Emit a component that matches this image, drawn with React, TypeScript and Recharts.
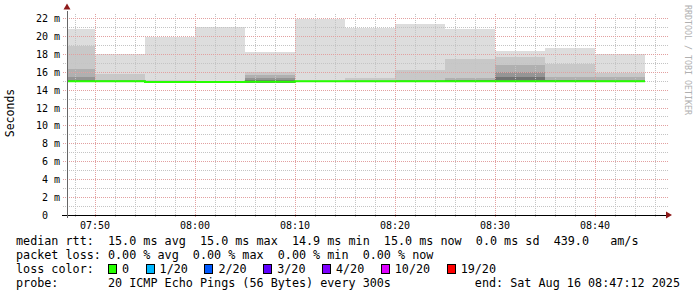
import React from 'react';
import { ComposedChart, Area, Line, XAxis, YAxis, ReferenceLine, ReferenceDot } from 'recharts';

// time in minutes after 07:00 ; each step covers 5 minutes (300 s)
const stepStart = [45, 50, 55, 60, 65, 70, 75, 80, 85, 90, 95, 100];
const stepEnd = 105;
// round trip times in ms
const pingMin = [14.9, 14.9, 14.82, 14.82, 14.85, 14.9, 14.9, 14.9, 14.9, 14.9, 14.9, 14.9];
const pingMax = [20.9, 18.07, 19.94, 21.13, 18.3, 21.96, 21.0, 21.44, 20.9, 18.44, 18.74, 18.07];
const band4Top = [18.95, 15.8, 15.1, 15.05, 16.1, 15.15, 15.38, 16.27, 17.5, 17.77, 16.92, 15.97];
const band3Top = [16.35, 15.2, 15.0, 14.95, 15.7, 15.05, 15.1, 15.2, 15.4, 16.84, 15.45, 15.45];
const band2Top = [15.5, 15.1, 14.95, 14.9, 15.35, 15.0, 15.05, 15.1, 15.2, 16.1, 15.2, 15.15];
const band1Top = [15.2, 15.05, 14.9, 14.9, 15.1, 15.0, 15.0, 15.05, 15.1, 15.5, 15.1, 15.05];
const medianRtt = [15.0, 15.0, 14.92, 14.92, 14.96, 15.0, 15.0, 15.0, 15.0, 15.0, 15.0, 15.0];

const xStart = 47.2; // 07:47:12
const xEnd = 107.2; // 08:47:12
const yTop = 22.67;
const xTicks = [50, 60, 70, 80, 90, 100];
const xMinorGrid = [48, 52, 54, 56, 58, 62, 64, 66, 68, 72, 74, 76, 78, 82, 84, 86, 88, 92, 94, 96, 98, 102, 104, 106];
const yTicks = [0, 2, 4, 6, 8, 10, 12, 14, 16, 18, 20, 22];
const yMinorGrid = [1, 3, 5, 7, 9, 11, 13, 15, 17, 19, 21];

const rttLine = 'median rtt:  15.0 ms avg  15.0 ms max  14.9 ms min  15.0 ms now  0.0 ms sd  439.0   am/s';
const lossLine = 'packet loss: 0.00 % avg  0.00 % max  0.00 % min  0.00 % now';
const lossLabels = ['0', '1/20', '2/20', '3/20', '4/20', '10/20', '19/20'];
const lossColors = ['#26ff00', '#00b8ff', '#0059ff', '#5e00ff', '#7e00ff', '#dd00ff', '#ff0000'];
const probeText = '20 ICMP Echo Pings (56 Bytes) every 300s';
const endText = 'end: Sat Aug 16 08:47:12 2025';

const rows = stepStart.map((t, i) => ({
  t,
  min: pingMin[i],
  max: pingMax[i],
  b4: band4Top[i],
  b3: band3Top[i],
  b2: band2Top[i],
  b1: band1Top[i],
  median: medianRtt[i],
}));
const data = [...rows, { ...rows[rows.length - 1], t: stepEnd }];

const MONO = '"DejaVu Sans Mono", monospace';
const minorColor = '#c4c4c4';
const majorColor = '#e2a0a0';
const arrowColor = '#8e1a1a';

const fmtTime = (m: number) => {
  const h = 7 + Math.floor(m / 60);
  const mm = m % 60;
  return `${String(h).padStart(2, '0')}:${String(mm).padStart(2, '0')}`;
};

const XTick = (p: any) => (
  <text x={p.x} y={p.y} dy={13.5} textAnchor="middle" fontFamily={MONO} fontSize={10} fill="#000">
    {fmtTime(p.payload.value)}
  </text>
);

const YTick = (p: any) => (
  <text
    x={p.x - 7}
    y={p.y}
    dy={3.5}
    textAnchor="end"
    fontFamily={MONO}
    fontSize={10}
    fill="#000"
    xmlSpace="preserve"
    style={{ whiteSpace: 'pre' }}
  >
    {p.payload.value === 0 ? '0  ' : `${p.payload.value} m`}
  </text>
);

const RightArrow = (p: any) => (
  <path d={`M${p.cx - 3},${p.cy - 3.5} L${p.cx + 3},${p.cy} L${p.cx - 3},${p.cy + 3.5} Z`} fill={arrowColor} />
);
const UpArrow = (p: any) => (
  <path d={`M${p.cx - 3.5},${p.cy + 3} L${p.cx},${p.cy - 3} L${p.cx + 3.5},${p.cy + 3} Z`} fill={arrowColor} />
);

const gridLeft = 46.8;
const gridRight = 107.4;
const gridBottom = -0.22;

export default function App() {
  return (
    <div style={{ position: 'absolute', left: 0, top: 0, width: 697, height: 297, background: '#fff', overflow: 'hidden' }}>
      <ComposedChart width={697} height={297} data={data} margin={{ top: 13, right: 30, bottom: 62, left: 7 }}>
        <XAxis
          dataKey="t"
          type="number"
          domain={[xStart, xEnd]}
          allowDataOverflow
          ticks={xTicks}
          interval={0}
          tick={<XTick />}
          tickSize={0}
          tickMargin={0}
          axisLine={false}
          tickLine={false}
          height={20}
        />
        <YAxis
          type="number"
          domain={[0, yTop]}
          allowDataOverflow
          ticks={yTicks}
          interval={0}
          tick={<YTick />}
          tickSize={0}
          tickMargin={0}
          axisLine={false}
          tickLine={false}
          width={60}
        />
        <Area dataKey={(d: any) => [d.min, d.max]} type="stepAfter" stroke="none" fill="#dddddd" fillOpacity={1} isAnimationActive={false} shapeRendering="crispEdges" />
        <Area dataKey={(d: any) => [d.min, d.b4]} type="stepAfter" stroke="none" fill="#c8c8c8" fillOpacity={1} isAnimationActive={false} shapeRendering="crispEdges" />
        <Area dataKey={(d: any) => [d.min, d.b3]} type="stepAfter" stroke="none" fill="#b0b0b0" fillOpacity={1} isAnimationActive={false} shapeRendering="crispEdges" />
        <Area dataKey={(d: any) => [d.min, d.b2]} type="stepAfter" stroke="none" fill="#959595" fillOpacity={1} isAnimationActive={false} shapeRendering="crispEdges" />
        <Area dataKey={(d: any) => [d.min, d.b1]} type="stepAfter" stroke="none" fill="#727272" fillOpacity={1} isAnimationActive={false} shapeRendering="crispEdges" />
        {yMinorGrid.map((v) => (
          <ReferenceLine key={`ym${v}`} segment={[{ x: gridLeft, y: v }, { x: gridRight, y: v }]} ifOverflow="visible" stroke={minorColor} strokeDasharray="1 1" shapeRendering="crispEdges" />
        ))}
        {xMinorGrid.map((v) => (
          <ReferenceLine key={`xm${v}`} segment={[{ x: v, y: gridBottom }, { x: v, y: yTop }]} ifOverflow="visible" stroke={minorColor} strokeDasharray="1 1" shapeRendering="crispEdges" />
        ))}
        {yTicks.filter((v) => v > 0).map((v) => (
          <ReferenceLine key={`yM${v}`} segment={[{ x: gridLeft, y: v }, { x: gridRight, y: v }]} ifOverflow="visible" stroke={majorColor} strokeDasharray="1 1" shapeRendering="crispEdges" />
        ))}
        {xTicks.map((v) => (
          <ReferenceLine key={`xM${v}`} segment={[{ x: v, y: gridBottom }, { x: v, y: yTop }]} ifOverflow="visible" stroke={majorColor} strokeDasharray="1 1" shapeRendering="crispEdges" />
        ))}
        <Line dataKey="median" type="stepAfter" stroke="#26ff00" strokeWidth={2} dot={false} activeDot={false} isAnimationActive={false} />
        <ReferenceLine segment={[{ x: 46.7, y: 0 }, { x: 107.3, y: 0 }]} ifOverflow="visible" stroke="#000" shapeRendering="crispEdges" />
        <ReferenceLine segment={[{ x: xStart, y: -0.34 }, { x: xStart, y: 22.9 }]} ifOverflow="visible" stroke="#666" shapeRendering="crispEdges" />
        <ReferenceDot x={107.4} y={0} ifOverflow="visible" shape={<RightArrow />} />
        <ReferenceDot x={xStart} y={23.4} ifOverflow="visible" shape={<UpArrow />} />
      </ComposedChart>

      <div
        style={{
          position: 'absolute', left: 10, top: 113, transform: 'translate(-50%, -50%) rotate(-90deg)',
          fontFamily: MONO, fontSize: 11.5, whiteSpace: 'pre', lineHeight: '14px', color: '#000',
        }}
      >
        Seconds
      </div>
      <div
        style={{
          position: 'absolute', left: 688, top: 60, transform: 'translate(-50%, -50%) rotate(90deg)',
          fontFamily: MONO, fontSize: 8.3, whiteSpace: 'pre', lineHeight: '10px', color: '#b0b0b0',
        }}
      >
        RRDTOOL / TOBI OETIKER
      </div>

      <div style={{ position: 'absolute', left: 16, top: 234, fontFamily: MONO, fontSize: 11.75, lineHeight: '14px', whiteSpace: 'pre', color: '#000' }}>
        {rttLine}
      </div>
      <div style={{ position: 'absolute', left: 16, top: 248, fontFamily: MONO, fontSize: 11.75, lineHeight: '14px', whiteSpace: 'pre', color: '#000' }}>
        {lossLine}
      </div>
      <div style={{ position: 'absolute', left: 16, top: 262, fontFamily: MONO, fontSize: 11.75, lineHeight: '14px', whiteSpace: 'pre', color: '#000', display: 'flex', alignItems: 'center' }}>
        <span style={{ width: 92 }}>loss color:</span>
        {lossLabels.map((l, i) => (
          <span key={l} style={{ display: 'inline-flex', alignItems: 'center', marginRight: 16.5 }}>
            <span style={{ display: 'inline-block', width: 7, height: 8, background: lossColors[i], border: '1px solid #000', marginRight: 5 }} />
            <span>{l}</span>
          </span>
        ))}
      </div>
      <div style={{ position: 'absolute', left: 16, top: 276, fontFamily: MONO, fontSize: 11.75, lineHeight: '14px', whiteSpace: 'pre', color: '#000' }}>
        {'probe:       ' + probeText}
      </div>
      <div style={{ position: 'absolute', right: 17, top: 276, fontFamily: MONO, fontSize: 11.75, lineHeight: '14px', whiteSpace: 'pre', color: '#000' }}>
        {endText}
      </div>
    </div>
  );
}
